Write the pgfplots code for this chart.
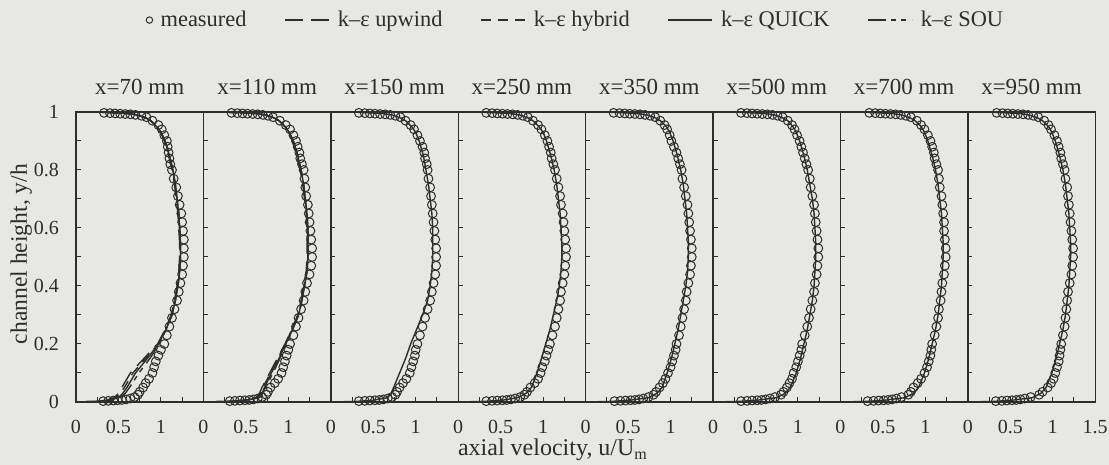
\documentclass[border=0pt]{standalone}
\usepackage{fontspec}
\setmainfont{Liberation Serif}
\usepackage{pgfplots}
\usepackage{pgfplotstable}
\pgfplotsset{compat=1.18}

\definecolor{paper}{RGB}{231,231,228}
\definecolor{ink}{RGB}{45,45,45}

% measured profiles, one column per station
\pgfplotstableread{
y     u1   u2   u3   u4   u5   u6   u7   u8
0.003 0.32 0.31 0.33 0.33 0.34 0.33 0.32 0.33
0.004 0.38 0.37 0.40 0.40 0.41 0.40 0.39 0.40
0.005 0.44 0.43 0.46 0.46 0.47 0.46 0.45 0.46
0.006 0.49 0.49 0.52 0.52 0.53 0.52 0.51 0.52
0.007 0.54 0.54 0.57 0.57 0.58 0.57 0.56 0.57
0.009 0.59 0.59 0.62 0.62 0.63 0.62 0.61 0.62
0.012 0.64 0.64 0.67 0.67 0.68 0.67 0.66 0.67
0.017 0.69 0.69 0.72 0.73 0.74 0.73 0.72 0.74
0.025 0.73 0.74 0.76 0.78 0.80 0.80 0.80 0.84
0.035 0.75 0.76 0.78 0.81 0.83 0.83 0.83 0.88
0.050 0.79 0.79 0.81 0.85 0.87 0.87 0.86 0.94
0.065 0.82 0.84 0.85 0.90 0.91 0.90 0.91 0.98
0.080 0.86 0.88 0.89 0.94 0.94 0.93 0.95 1.01
0.100 0.90 0.92 0.93 0.97 0.97 0.95 0.99 1.03
0.120 0.92 0.94 0.95 0.99 1.00 0.98 1.02 1.05
0.140 0.94 0.96 0.97 1.02 1.02 1.00 1.04 1.07
0.160 0.97 0.98 0.99 1.04 1.04 1.02 1.06 1.08
0.180 1.00 1.00 1.00 1.06 1.06 1.04 1.07 1.09
0.200 1.04 1.02 1.02 1.08 1.07 1.05 1.08 1.10
0.230 1.07 1.06 1.05 1.11 1.10 1.08 1.11 1.12
0.260 1.10 1.09 1.08 1.14 1.12 1.11 1.13 1.14
0.290 1.13 1.12 1.11 1.16 1.14 1.13 1.15 1.15
0.320 1.16 1.15 1.14 1.18 1.16 1.15 1.16 1.16
0.350 1.19 1.18 1.17 1.20 1.18 1.17 1.18 1.17
0.380 1.21 1.20 1.19 1.21 1.19 1.19 1.19 1.18
0.410 1.23 1.22 1.21 1.23 1.21 1.20 1.20 1.20
0.440 1.25 1.25 1.23 1.25 1.23 1.22 1.22 1.22
0.470 1.26 1.27 1.24 1.26 1.24 1.23 1.23 1.23
0.500 1.27 1.28 1.24 1.27 1.25 1.24 1.24 1.24
0.530 1.27 1.28 1.24 1.27 1.25 1.24 1.24 1.24
0.560 1.27 1.27 1.23 1.26 1.24 1.23 1.23 1.23
0.590 1.26 1.26 1.22 1.25 1.23 1.22 1.22 1.22
0.620 1.25 1.25 1.21 1.24 1.22 1.21 1.22 1.21
0.650 1.24 1.24 1.20 1.23 1.21 1.20 1.21 1.20
0.680 1.22 1.23 1.19 1.21 1.20 1.19 1.20 1.19
0.710 1.20 1.21 1.18 1.20 1.18 1.17 1.19 1.18
0.740 1.18 1.20 1.17 1.18 1.16 1.15 1.17 1.17
0.770 1.15 1.19 1.15 1.16 1.14 1.14 1.16 1.15
0.800 1.13 1.18 1.14 1.14 1.13 1.12 1.15 1.14
0.820 1.11 1.16 1.13 1.12 1.11 1.10 1.13 1.12
0.840 1.10 1.14 1.11 1.10 1.09 1.08 1.11 1.10
0.860 1.09 1.13 1.10 1.09 1.07 1.06 1.10 1.09
0.880 1.08 1.11 1.08 1.07 1.04 1.04 1.08 1.07
0.900 1.07 1.09 1.05 1.05 1.01 1.02 1.06 1.05
0.920 1.04 1.06 1.02 1.02 0.99 0.99 1.03 1.02
0.940 1.01 1.02 0.98 0.98 0.96 0.96 0.99 0.98
0.955 0.97 0.97 0.94 0.94 0.93 0.93 0.95 0.95
0.970 0.90 0.90 0.88 0.88 0.88 0.88 0.90 0.90
0.982 0.83 0.82 0.82 0.82 0.82 0.82 0.83 0.83
0.987 0.77 0.76 0.76 0.76 0.76 0.76 0.77 0.77
0.990 0.70 0.70 0.70 0.70 0.70 0.70 0.71 0.71
0.992 0.64 0.64 0.64 0.64 0.64 0.64 0.65 0.65
0.993 0.58 0.58 0.58 0.58 0.58 0.58 0.59 0.59
0.994 0.52 0.52 0.52 0.52 0.52 0.52 0.53 0.53
0.995 0.46 0.46 0.46 0.46 0.46 0.46 0.47 0.47
0.996 0.40 0.40 0.40 0.40 0.40 0.40 0.41 0.41
0.997 0.33 0.33 0.33 0.33 0.33 0.33 0.34 0.34
}\meastab

% k-eps predictions: q = QUICK (all stations), a/b/c = upwind/hybrid/SOU at stations 1 and 2
\pgfplotstableread{
y     q1   q2   q3   q4   q5   q6   q7   q8   a1   b1   c1   a2   b2   c2
0.000 0    0    0    0    0    0    0    0    0    0    0    0    0    0
0.002 0.25 0.30 0.30 0.30 0.30 0.30 0.30 0.30 0.22 0.23 0.26 0.28 0.29 0.31
0.006 0.40 0.50 0.50 0.52 0.52 0.52 0.52 0.52 0.36 0.38 0.42 0.47 0.48 0.51
0.015 0.50 0.65 0.67 0.70 0.74 0.75 0.76 0.76 0.45 0.47 0.52 0.62 0.63 0.66
0.030 0.55 0.69 0.71 0.80 0.84 0.85 0.86 0.86 0.50 0.52 0.58 0.66 0.67 0.70
0.050 0.60 0.72 0.74 0.86 0.90 0.91 0.92 0.92 0.54 0.57 0.63 0.69 0.70 0.73
0.100 0.70 0.80 0.81 0.93 0.96 0.98 0.99 0.99 0.64 0.67 0.74 0.78 0.79 0.82
0.150 0.84 0.89 0.88 0.98 1.01 1.03 1.04 1.04 0.80 0.82 0.87 0.87 0.88 0.90
0.200 0.97 0.97 0.94 1.03 1.05 1.07 1.08 1.08 0.96 0.97 0.98 0.96 0.96 0.98
0.250 1.06 1.05 1.01 1.08 1.09 1.11 1.12 1.12 1.05 1.06 1.06 1.04 1.05 1.05
0.300 1.13 1.12 1.08 1.12 1.12 1.14 1.15 1.15 1.12 1.13 1.13 1.11 1.12 1.12
0.350 1.17 1.16 1.14 1.16 1.15 1.17 1.17 1.17 1.16 1.17 1.17 1.15 1.16 1.16
0.400 1.20 1.19 1.17 1.19 1.18 1.19 1.19 1.19 1.19 1.20 1.20 1.18 1.19 1.19
0.450 1.22 1.22 1.19 1.21 1.20 1.20 1.20 1.20 1.21 1.22 1.22 1.21 1.22 1.22
0.500 1.23 1.23 1.20 1.22 1.21 1.21 1.21 1.21 1.22 1.23 1.23 1.22 1.23 1.23
0.550 1.23 1.23 1.20 1.22 1.21 1.21 1.21 1.21 1.22 1.23 1.23 1.22 1.23 1.23
0.600 1.22 1.23 1.20 1.21 1.20 1.20 1.20 1.20 1.21 1.22 1.22 1.22 1.23 1.23
0.650 1.21 1.22 1.19 1.20 1.19 1.19 1.19 1.19 1.20 1.21 1.21 1.21 1.22 1.22
0.700 1.19 1.20 1.17 1.18 1.17 1.17 1.17 1.17 1.18 1.19 1.19 1.19 1.20 1.20
0.750 1.17 1.18 1.15 1.16 1.15 1.14 1.15 1.15 1.16 1.17 1.17 1.17 1.18 1.18
0.800 1.14 1.15 1.12 1.13 1.12 1.11 1.12 1.12 1.13 1.14 1.14 1.14 1.15 1.15
0.850 1.10 1.11 1.09 1.09 1.08 1.07 1.08 1.08 1.09 1.10 1.10 1.10 1.11 1.11
0.900 1.05 1.06 1.04 1.04 1.03 1.02 1.03 1.03 1.04 1.05 1.05 1.05 1.06 1.06
0.930 1.00 1.01 1.00 1.00 0.99 0.98 0.99 0.99 1.00 1.00 1.00 1.01 1.01 1.01
0.950 0.95 0.96 0.95 0.95 0.95 0.94 0.95 0.95 0.95 0.95 0.95 0.96 0.96 0.96
0.970 0.88 0.89 0.88 0.88 0.88 0.88 0.88 0.88 0.88 0.88 0.88 0.89 0.89 0.89
0.980 0.82 0.83 0.82 0.82 0.82 0.82 0.82 0.82 0.82 0.82 0.82 0.83 0.83 0.83
0.990 0.72 0.73 0.72 0.72 0.72 0.72 0.72 0.72 0.72 0.72 0.72 0.73 0.73 0.73
0.995 0.60 0.60 0.60 0.60 0.60 0.60 0.60 0.60 0.60 0.60 0.60 0.60 0.60 0.60
0.999 0.30 0.30 0.30 0.30 0.30 0.30 0.30 0.30 0.30 0.30 0.30 0.30 0.30 0.30
1.000 0    0    0    0    0    0    0    0    0    0    0    0    0    0
}\simtab

\pgfplotsset{
  panel/.style={
    scale only axis, width=63.7pt, height=145pt,
    anchor=south west, clip=false,
    xmin=0, xmax=1.5, ymin=0, ymax=1,
    xtick={0,0.5,1}, minor xtick={0.25,0.75,1.25},
    ytick={0,0.2,0.4,0.6,0.8,1}, minor ytick={0.1,0.3,0.5,0.7,0.9},
    yticklabels={},
    xtick pos=bottom, ytick pos=left, tick align=inside,
    major tick length=2.3pt, minor tick length=2.3pt,
    every tick/.style={ink, line width=0.5pt},
    axis line style={ink, line width=0.7pt},
    ticklabel style={font=\fontsize{10}{12}\selectfont, text=ink},
    xticklabel style={yshift=-5.5pt},
    yticklabel style={xshift=-5pt},
    /pgf/number format/assume math mode=true,
    title style={at={(0.5,1)}, anchor=base, yshift=2.5pt,
      font=\fontsize{11.5}{13}\selectfont, text=ink},
  },
  meas/.style={only marks, mark=o, mark size=2.2pt,
    mark options={ink, line width=0.5pt},
    legend image code/.code={\draw[##1, mark size=1.6pt] plot coordinates {(2pt,0pt)};}},
  curve/.style={ink, line width=0.7pt, mark=none,
    legend image code/.code={\draw[##1] (0pt,0pt) -- (22pt,0pt);}},
  upw/.style={curve, dash pattern=on 9pt off 4pt},
  hyb/.style={curve, dash pattern=on 5pt off 3.5pt},
  qck/.style={curve},
  sou/.style={curve, dash pattern=on 9pt off 2.5pt on 2.5pt off 2.5pt on 2.5pt off 3pt},
}

\begin{document}
\begin{tikzpicture}
\fill[paper] (0,0) rectangle (554.5pt,232.5pt);
\useasboundingbox (0,0) rectangle (554.5pt,232.5pt);

\begin{axis}[panel, at={(38pt,31.5pt)}, title={x=70 mm},
  yticklabels={0,0.2,0.4,0.6,0.8,1},
  ylabel={channel height, y/h},
  ylabel style={at={(axis description cs:-0.43,0.51)}, anchor=center,
    font=\fontsize{11.8}{14}\selectfont, text=ink},
  xlabel={axial velocity, u/U\textsubscript{m}},
  xlabel style={at={(axis description cs:3.744,-0.186)}, anchor=base,
    font=\fontsize{12}{14}\selectfont, text=ink},
  legend columns=5,
  legend style={at={(axis description cs:3.93,1.317)}, anchor=center,
    draw=none, fill=none, text=ink, font=\fontsize{11.2}{13}\selectfont,
    /tikz/every even column/.append style={column sep=17pt},
    /tikz/every odd column/.append style={column sep=2pt}},
]
\addplot[meas] table[x=u1, y=y] {\meastab};
\addplot[upw] table[x=a1, y=y] {\simtab};
\addplot[hyb] table[x=b1, y=y] {\simtab};
\addplot[qck] table[x=q1, y=y] {\simtab};
\addplot[sou] table[x=c1, y=y] {\simtab};
\legend{measured, k–ε upwind, k–ε hybrid, k–ε QUICK, k–ε SOU}
\end{axis}

\begin{axis}[panel, at={(101.7pt,31.5pt)}, title={x=110 mm}]
\addplot[meas] table[x=u2, y=y] {\meastab};
\addplot[upw] table[x=a2, y=y] {\simtab};
\addplot[hyb] table[x=b2, y=y] {\simtab};
\addplot[qck] table[x=q2, y=y] {\simtab};
\addplot[sou] table[x=c2, y=y] {\simtab};
\end{axis}

\begin{axis}[panel, at={(165.4pt,31.5pt)}, title={x=150 mm}]
\addplot[meas] table[x=u3, y=y] {\meastab};
\addplot[qck] table[x=q3, y=y] {\simtab};
\end{axis}

\begin{axis}[panel, at={(229.1pt,31.5pt)}, title={x=250 mm}]
\addplot[meas] table[x=u4, y=y] {\meastab};
\addplot[qck] table[x=q4, y=y] {\simtab};
\end{axis}

\begin{axis}[panel, at={(292.8pt,31.5pt)}, title={x=350 mm}]
\addplot[meas] table[x=u5, y=y] {\meastab};
\addplot[qck] table[x=q5, y=y] {\simtab};
\end{axis}

\begin{axis}[panel, at={(356.5pt,31.5pt)}, title={x=500 mm}]
\addplot[meas] table[x=u6, y=y] {\meastab};
\addplot[qck] table[x=q6, y=y] {\simtab};
\end{axis}

\begin{axis}[panel, at={(420.2pt,31.5pt)}, title={x=700 mm}]
\addplot[meas] table[x=u7, y=y] {\meastab};
\addplot[qck] table[x=q7, y=y] {\simtab};
\end{axis}

\begin{axis}[panel, at={(483.9pt,31.5pt)}, title={x=950 mm},
  xtick={0,0.5,1,1.5}, minor xtick={0.25,0.75,1.25}]
\addplot[meas] table[x=u8, y=y] {\meastab};
\addplot[qck] table[x=q8, y=y] {\simtab};
\end{axis}
\end{tikzpicture}
\end{document}
